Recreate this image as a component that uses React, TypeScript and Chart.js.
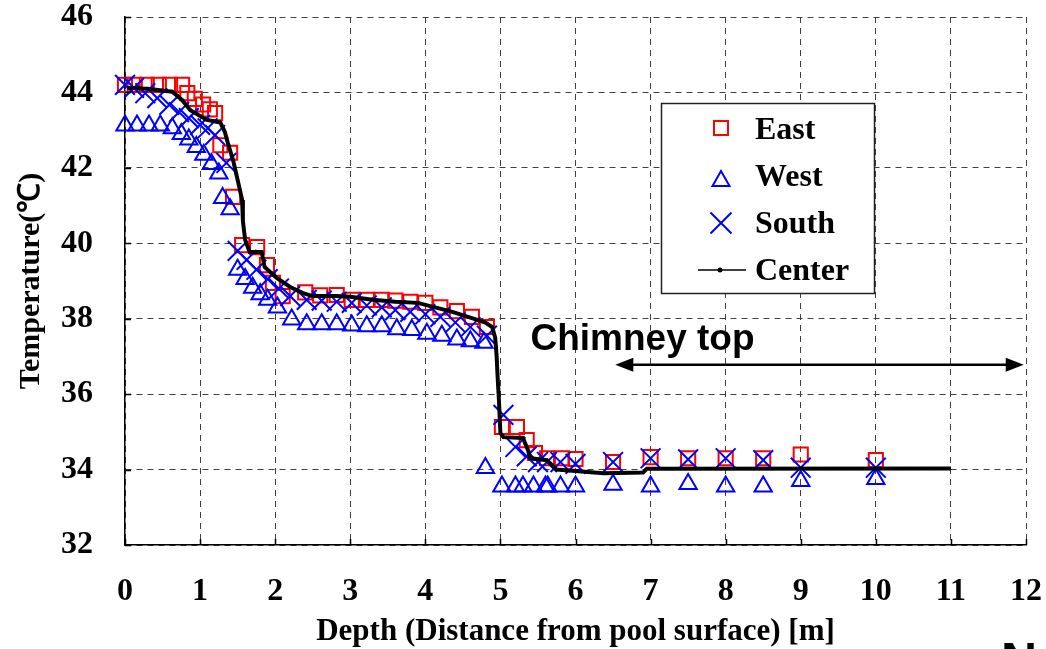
import React, { useEffect, useRef } from 'react';
import { Chart, registerables } from 'chart.js';

Chart.register(...registerables);

// ---- Data (depth [m], temperature [°C]) ----
const eastDepth = [0.0, 0.13, 0.29, 0.45, 0.6, 0.76, 0.83, 0.93, 1.04, 1.13, 1.2, 1.27, 1.4, 1.44, 1.56, 1.76, 1.89, 1.97, 2.1, 2.4, 2.6, 2.82, 3.02, 3.22, 3.42, 3.6, 3.8, 4.0, 4.2, 4.42, 4.62, 4.82, 5.02, 5.22, 5.35, 5.46, 5.62, 5.82, 6.0, 6.5, 7.0, 7.5, 8.0, 8.5, 9.0, 10.0];
const eastTemp = [44.2, 44.2, 44.2, 44.2, 44.2, 44.2, 43.98, 43.83, 43.68, 43.55, 43.45, 42.6, 42.4, 41.23, 39.95, 39.9, 39.42, 38.95, 38.6, 38.7, 38.62, 38.63, 38.5, 38.5, 38.5, 38.48, 38.45, 38.42, 38.3, 38.2, 38.05, 37.78, 35.13, 35.13, 34.78, 34.44, 34.3, 34.3, 34.28, 34.2, 34.33, 34.3, 34.3, 34.3, 34.4, 34.25];

const westDepth = [0.0, 0.16, 0.32, 0.47, 0.63, 0.75, 0.85, 0.95, 1.05, 1.15, 1.25, 1.3, 1.4, 1.5, 1.6, 1.7, 1.8, 1.9, 2.03, 2.22, 2.42, 2.62, 2.82, 3.02, 3.22, 3.42, 3.62, 3.82, 4.02, 4.22, 4.42, 4.6, 4.78, 4.8, 5.02, 5.2, 5.3, 5.44, 5.6, 5.63, 5.8, 6.0, 6.5, 7.0, 7.5, 8.0, 8.5, 9.0, 10.0];
const westTemp = [43.12, 43.12, 43.12, 43.12, 43.05, 42.9, 42.75, 42.55, 42.35, 42.1, 41.85, 41.2, 40.9, 39.3, 39.05, 38.82, 38.65, 38.5, 38.3, 37.98, 37.85, 37.85, 37.85, 37.82, 37.8, 37.8, 37.72, 37.7, 37.6, 37.55, 37.45, 37.4, 37.36, 34.04, 33.55, 33.55, 33.55, 33.55, 33.55, 33.55, 33.55, 33.55, 33.6, 33.55, 33.62, 33.55, 33.55, 33.7, 33.75];

const southDepth = [0.0, 0.12, 0.27, 0.43, 0.59, 0.72, 0.85, 1.0, 1.1, 1.2, 1.35, 1.5, 1.62, 1.75, 1.9, 2.05, 2.2, 2.42, 2.62, 2.82, 3.02, 3.22, 3.42, 3.6, 3.8, 4.0, 4.2, 4.4, 4.6, 4.82, 5.04, 5.2, 5.35, 5.5, 5.62, 5.8, 6.0, 6.5, 7.0, 7.5, 8.0, 8.5, 9.0, 10.0];
const southTemp = [44.2, 44.12, 43.98, 43.85, 43.67, 43.48, 43.32, 43.14, 43.05, 42.87, 42.13, 39.8, 39.56, 39.3, 39.05, 38.8, 38.6, 38.5, 38.48, 38.45, 38.42, 38.35, 38.3, 38.23, 38.18, 38.12, 38.05, 37.9, 37.78, 37.55, 35.45, 34.6, 34.35, 34.2, 34.2, 34.2, 34.15, 34.2, 34.3, 34.27, 34.3, 34.25, 34.05, 34.05];

const centerDepth = [0.03, 0.3, 0.63, 0.76, 0.87, 1.09, 1.27, 1.33, 1.37, 1.44, 1.5, 1.56, 1.57, 1.6, 1.66, 1.82, 1.86, 2.02, 2.2, 2.37, 2.5, 2.82, 3.0, 3.3, 3.6, 3.9, 4.13, 4.36, 4.57, 4.8, 4.89, 4.93, 4.95, 4.96, 4.98, 5.0, 5.04, 5.3, 5.37, 5.4, 5.62, 5.75, 6.0, 6.37, 6.9, 6.95, 11.0];
const centerTemp = [44.12, 44.1, 44.02, 43.8, 43.53, 43.27, 43.2, 42.95, 42.66, 42.2, 41.68, 41.15, 40.6, 40.09, 39.77, 39.77, 39.37, 39.08, 38.84, 38.68, 38.6, 38.6, 38.58, 38.5, 38.45, 38.42, 38.3, 38.18, 38.05, 37.9, 37.78, 37.5, 37.0, 36.56, 35.85, 34.97, 34.86, 34.84, 34.5, 34.3, 34.25, 34.0, 33.96, 33.9, 33.92, 34.02, 34.03];

const seriesLabels = ['East', 'West', 'South', 'Center'];
const xTickValues = [0, 1, 2, 3, 4, 5, 6, 7, 8, 9, 10, 11, 12];
const yTickValues = [32, 34, 36, 38, 40, 42, 44, 46];
const xTitle = 'Depth (Distance from pool surface) [m]';
const yTitle = 'Temperature(℃)';
const annotationText = 'Chimney top';
const chimneyStart = 6.53;
const chimneyEnd = 11.97;

const pts = (xs: number[], ys: number[]) => xs.map((x, i) => ({ x, y: ys[i] }));

const SERIF = 'Liberation Serif';
const SANS = 'Liberation Sans';

const overlayPlugin = {
  id: 'overlay',
  afterDraw(chart: any) {
    const { ctx, scales, chartArea } = chart;
    const x = scales.x;
    const y = scales.y;
    ctx.save();
    // inner solid tick marks
    ctx.strokeStyle = '#000';
    ctx.lineWidth = 1.5;
    ctx.beginPath();
    yTickValues.forEach((v) => {
      const py = Math.round(y.getPixelForValue(v)) + 0.5;
      ctx.moveTo(chartArea.left, py);
      ctx.lineTo(chartArea.left + 6, py);
    });
    xTickValues.forEach((v) => {
      const px = Math.round(x.getPixelForValue(v)) + 0.5;
      ctx.moveTo(px, chartArea.bottom);
      ctx.lineTo(px, chartArea.bottom - 6);
    });
    ctx.stroke();

    // annotation text
    ctx.fillStyle = '#000';
    ctx.font = `bold 37px "${SANS}"`;
    ctx.textAlign = 'left';
    ctx.textBaseline = 'alphabetic';
    ctx.fillText(annotationText, x.getPixelForValue(5.4), y.getPixelForValue(37.17));

    // double arrow
    const ay = y.getPixelForValue(36.78);
    const ax1 = x.getPixelForValue(chimneyStart);
    const ax2 = x.getPixelForValue(chimneyEnd);
    ctx.lineWidth = 2.5;
    ctx.beginPath();
    ctx.moveTo(ax1 + 10, ay);
    ctx.lineTo(ax2 - 10, ay);
    ctx.stroke();
    ctx.beginPath();
    ctx.moveTo(ax1, ay);
    ctx.lineTo(ax1 + 18, ay - 7);
    ctx.lineTo(ax1 + 18, ay + 7);
    ctx.closePath();
    ctx.moveTo(ax2, ay);
    ctx.lineTo(ax2 - 18, ay - 7);
    ctx.lineTo(ax2 - 18, ay + 7);
    ctx.closePath();
    ctx.fill();

    // legend box
    const lx = 661, ly = 103, lw = 213, lh = 190;
    ctx.fillStyle = '#fff';
    ctx.fillRect(lx, ly, lw, lh);
    ctx.strokeStyle = '#222';
    ctx.lineWidth = 1.5;
    ctx.strokeRect(lx + 0.5, ly + 0.5, lw, lh);

    const mx = 721;
    // East square
    ctx.strokeStyle = '#ff0000';
    ctx.lineWidth = 2;
    ctx.strokeRect(mx - 7, 128 - 7, 14, 14);
    // West triangle
    ctx.strokeStyle = '#0000ff';
    ctx.beginPath();
    ctx.moveTo(mx, 171);
    ctx.lineTo(mx + 8.5, 186);
    ctx.lineTo(mx - 8.5, 186);
    ctx.closePath();
    ctx.stroke();
    // South X
    ctx.beginPath();
    ctx.moveTo(mx - 10.5, 212.5);
    ctx.lineTo(mx + 10.5, 233.5);
    ctx.moveTo(mx + 10.5, 212.5);
    ctx.lineTo(mx - 10.5, 233.5);
    ctx.stroke();
    // Center line
    ctx.strokeStyle = '#000';
    ctx.lineWidth = 1.5;
    ctx.beginPath();
    ctx.moveTo(698, 270);
    ctx.lineTo(746, 270);
    ctx.stroke();
    ctx.fillStyle = '#000';
    ctx.beginPath();
    ctx.arc(mx - 1, 270, 2.5, 0, Math.PI * 2);
    ctx.fill();

    ctx.font = `bold 32px "${SERIF}"`;
    ctx.textAlign = 'left';
    ctx.textBaseline = 'alphabetic';
    const baselines = [139, 186, 233, 280];
    seriesLabels.forEach((t, i) => ctx.fillText(t, 755, baselines[i]));

    // partially visible text at the bottom right corner
    ctx.font = `bold 50px "${SANS}"`;
    ctx.fillText('N', 1001, 678);
    ctx.restore();
  },
};

export default function App() {
  const ref = useRef<HTMLCanvasElement>(null);
  useEffect(() => {
    document.body.style.margin = '0';
    document.body.style.overflow = 'hidden';
    const canvas = ref.current!;
    const chart = new Chart(canvas, {
      type: 'scatter',
      data: {
        datasets: [
          {
            label: seriesLabels[3],
            data: pts(centerDepth, centerTemp),
            showLine: true,
            borderColor: '#000',
            backgroundColor: '#000',
            borderWidth: 4,
            pointRadius: 0,
            tension: 0,
            clip: false,
          } as any,
          {
            label: seriesLabels[2],
            data: pts(southDepth, southTemp),
            pointStyle: 'crossRot',
            pointRadius: 14,
            borderColor: '#0000ff',
            backgroundColor: '#0000ff',
            pointBorderWidth: 2,
            clip: false,
          },
          {
            label: seriesLabels[1],
            data: pts(westDepth, westTemp),
            pointStyle: 'triangle',
            pointRadius: 10,
            borderColor: '#0000ff',
            backgroundColor: 'rgba(0,0,0,0)',
            pointBorderWidth: 2,
            clip: false,
          },
          {
            label: seriesLabels[0],
            data: pts(eastDepth, eastTemp),
            pointStyle: 'rect',
            pointRadius: 10,
            borderColor: '#ff0000',
            backgroundColor: 'rgba(0,0,0,0)',
            pointBorderWidth: 2,
            clip: false,
          },
        ],
      },
      options: {
        animation: false,
        responsive: false,
        devicePixelRatio: 1,
        layout: { padding: { top: 17, right: 20, left: 0, bottom: 0 } },
        plugins: { legend: { display: false }, tooltip: { enabled: false } },
        scales: {
          x: {
            type: 'linear',
            min: 0,
            max: 12,
            afterBuildTicks: (s: any) => {
              s.ticks = xTickValues.map((v) => ({ value: v }));
            },
            afterFit: (s: any) => {
              s.height = 104;
              s.paddingLeft = 0;
              s.paddingRight = 0;
              s.paddingTop = 0;
              s.paddingBottom = 0;
            },
            ticks: {
              color: '#000',
              padding: 28,
              maxRotation: 0,
              font: { family: SERIF, size: 32, weight: 'bold' },
            },
            grid: { color: '#404040', lineWidth: 1, drawTicks: false },
            border: { display: true, color: '#000', width: 1.5, dash: [6, 5] },
            title: {
              display: true,
              text: xTitle,
              color: '#000',
              font: { family: SERIF, size: 31, weight: 'bold', lineHeight: 1.1 },
              padding: { top: 0, bottom: 0 },
            },
          },
          y: {
            type: 'linear',
            min: 32,
            max: 46,
            afterBuildTicks: (s: any) => {
              s.ticks = yTickValues.map((v) => ({ value: v }));
            },
            afterFit: (s: any) => {
              s.width = 125;
              s.paddingLeft = 0;
              s.paddingRight = 0;
              s.paddingTop = 0;
              s.paddingBottom = 0;
            },
            ticks: {
              color: '#000',
              padding: 32,
              font: { family: SERIF, size: 32, weight: 'bold', lineHeight: 1 },
            },
            grid: { color: '#404040', lineWidth: 1, drawTicks: false },
            border: { display: true, color: '#000', width: 1.5, dash: [6, 5] },
            title: {
              display: true,
              text: yTitle,
              color: '#000',
              font: { family: SERIF, size: 30, weight: 'bold', lineHeight: 1.2 },
              padding: { top: 13, bottom: 0 },
            },
          },
        },
      },
      plugins: [overlayPlugin],
    } as any);
    return () => chart.destroy();
  }, []);
  return (
    <canvas
      ref={ref}
      width={1046}
      height={649}
      style={{ display: 'block', width: '1046px', height: '649px' }}
    />
  );
}
